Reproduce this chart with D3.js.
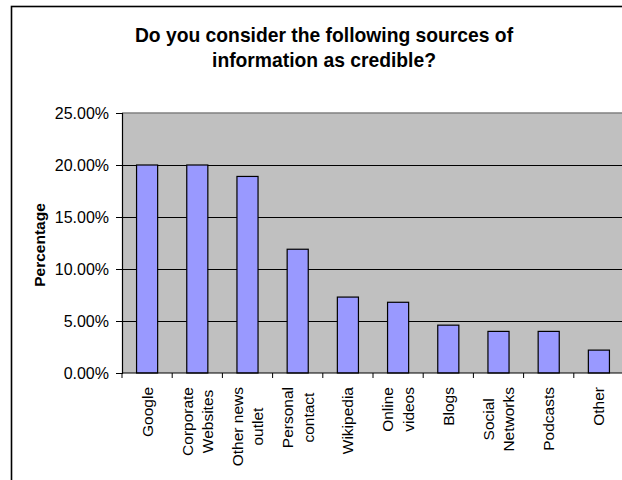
<!DOCTYPE html>
<html>
<head>
<meta charset="utf-8">
<script src="https://cdn.jsdelivr.net/npm/d3@7"></script>
<style>
  html, body { margin: 0; padding: 0; background: #fff; }
  svg { display: block; font-family: "Liberation Sans", Arial, sans-serif; }
</style>
</head>
<body>
<svg id="chart" width="622" height="480"></svg>
<script>
// ---- data ----
const categories = ["Google", "Corporate Websites", "Other news outlet", "Personal contact", "Wikipedia",
                    "Online videos", "Blogs", "Social Networks", "Podcasts", "Other"];
const categoryLines = [["Google"], ["Corporate", "Websites"], ["Other news", "outlet"], ["Personal", "contact"],
                       ["Wikipedia"], ["Online", "videos"], ["Blogs"], ["Social", "Networks"], ["Podcasts"], ["Other"]];
const values = [20.0, 20.0, 18.9, 11.9, 7.3, 6.8, 4.6, 4.0, 4.0, 2.2];
const yTicks = [0, 5, 10, 15, 20, 25];
const titleLines = ["Do you consider the following sources of", "information as credible?"];
const yTitle = "Percentage";

// ---- layout ----
const svg = d3.select("#chart");
const plot = { left: 122, right: 624, top: 113, bottom: 373 };

// outer chart frame (extends beyond visible area)
svg.append("rect")
  .attr("x", 11.5).attr("y", 6.5)
  .attr("width", 800).attr("height", 800)
  .attr("fill", "#fff").attr("stroke", "#000").attr("stroke-width", 1.6);

const x = d3.scaleBand().domain(categories).range([plot.left, plot.right])
  .paddingInner(0.58).paddingOuter(0.29);
const y = d3.scaleLinear().domain([0, 25]).range([plot.bottom, plot.top]);

// plot area
svg.append("rect")
  .attr("x", plot.left).attr("y", plot.top)
  .attr("width", plot.right - plot.left).attr("height", plot.bottom - plot.top)
  .attr("fill", "#C0C0C0");
svg.append("line")
  .attr("x1", plot.left).attr("x2", plot.right)
  .attr("y1", y(25)).attr("y2", y(25))
  .attr("stroke", "#808080").attr("stroke-width", 1.5);

// gridlines
svg.append("g").selectAll("line")
  .data(yTicks.filter(d => d > 0 && d < 25))
  .join("line")
  .attr("x1", plot.left).attr("x2", plot.right)
  .attr("y1", d => Math.round(y(d)) + 0.5).attr("y2", d => Math.round(y(d)) + 0.5)
  .attr("stroke", "#000").attr("stroke-width", 1);

// bars
svg.append("g").selectAll("rect")
  .data(values)
  .join("rect")
  .attr("x", (d, i) => x(categories[i]))
  .attr("y", d => y(d))
  .attr("width", x.bandwidth())
  .attr("height", d => y(0) - y(d))
  .attr("fill", "#9999FF")
  .attr("stroke", "#000").attr("stroke-width", 1.2);

// y axis
const yAxis = d3.axisLeft(y).tickValues(yTicks).tickSize(6).tickPadding(7)
  .tickFormat(d => d.toFixed(2) + "%");
const gy = svg.append("g").attr("transform", `translate(${plot.left},0)`).call(yAxis);
gy.select(".domain").attr("stroke", "#000").attr("stroke-width", 1.2);
gy.selectAll(".tick line").attr("stroke", "#000");
gy.selectAll(".tick text")
  .attr("font-size", 16).attr("fill", "#000")
  .attr("font-family", "Liberation Sans, Arial, sans-serif");

// x axis line & ticks at band boundaries
const boundaries = d3.range(categories.length + 1).map(i => plot.left + i * (plot.right - plot.left) / categories.length);
svg.append("line")
  .attr("x1", plot.left).attr("x2", plot.right)
  .attr("y1", plot.bottom).attr("y2", plot.bottom)
  .attr("stroke", "#000").attr("stroke-width", 1.2);
svg.append("g").selectAll("line")
  .data(boundaries)
  .join("line")
  .attr("x1", d => d).attr("x2", d => d)
  .attr("y1", plot.bottom).attr("y2", plot.bottom + 5)
  .attr("stroke", "#000");

// category labels (rotated, multi-line centered)
const labelTop = 387;
const lineGap = 20.5;
const catG = svg.append("g");
categoryLines.forEach((lines, i) => {
  const cx = x(categories[i]) + x.bandwidth() / 2;
  const t = catG.append("text")
    .attr("font-size", 15.5).attr("fill", "#000")
    .attr("text-anchor", "middle");
  const spans = lines.map((ln, j) => t.append("tspan").text(ln)
    .attr("y", (j - (lines.length - 1) / 2) * lineGap)
    .attr("dy", "0.36em"));
  let maxLen = 0;
  spans.forEach(s => { maxLen = Math.max(maxLen, s.node().getComputedTextLength()); });
  spans.forEach(s => s.attr("x", -maxLen / 2));
  t.attr("transform", `translate(${cx},${labelTop}) rotate(-90)`);
});

// y axis title
svg.append("text")
  .attr("transform", "translate(39,245) rotate(-90)")
  .attr("text-anchor", "middle").attr("dy", "0.36em")
  .attr("font-size", 15.5).attr("font-weight", "bold")
  .text(yTitle);

// chart title
svg.append("g").selectAll("text")
  .data(titleLines)
  .join("text")
  .attr("x", 324).attr("y", (d, i) => 41.7 + i * 25)
  .attr("text-anchor", "middle")
  .attr("font-size", 19.3).attr("font-weight", "bold")
  .text(d => d);
</script>
</body>
</html>
